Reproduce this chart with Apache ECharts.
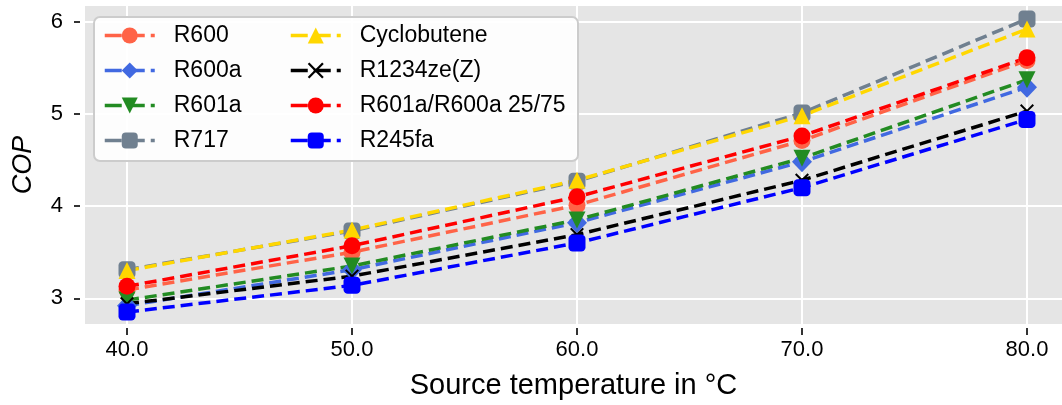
<!DOCTYPE html>
<html>
<head>
<meta charset="utf-8">
<script src="https://cdn.jsdelivr.net/npm/echarts@6/dist/echarts.min.js"></script>
<style>
	html, body { margin: 0; padding: 0; background: #fff; }
	#chart { width: 1062px; height: 405px; }
</style>
</head>
<body>
<div id="chart"></div>
<script>
// source temperature in °C
var temps = [40, 50, 60, 70, 80];
var xTicks = [40, 50, 60, 70, 80];
var yTicks = [3, 4, 5, 6];

// COP per refrigerant
var r600 = [3.09, 3.50, 4.01, 4.71, 5.58];
var r600a = [2.92, 3.31, 3.82, 4.48, 5.29];
var r601a = [2.98, 3.35, 3.85, 4.52, 5.37];
var r717 = [3.31, 3.73, 4.27, 5.01, 6.03];
var cyclobutene = [3.30, 3.74, 4.28, 4.98, 5.92];
var r1234zeZ = [2.94, 3.24, 3.69, 4.28, 5.03];
var r601aR600a = [3.13, 3.57, 4.10, 4.76, 5.61];
var r245fa = [2.85, 3.14, 3.60, 4.20, 4.94];

var crossPath = 'path://M0,1 L1,0 L5,4 L9,0 L10,1 L6,5 L10,9 L9,10 L5,6 L1,10 L0,9 L4,5 Z';
var font = 'Liberation Sans';

function pairs(vals) {
	return temps.map(function(t, i) { return [t, vals[i]]; });
}

function line(name, vals, color, symbol, size, rotate) {
	return {
		name: name,
		type: 'line',
		data: pairs(vals),
		symbol: symbol,
		symbolSize: size,
		symbolRotate: rotate || 0,
		showSymbol: true,
		animation: false,
		itemStyle: { color: color, opacity: 1 },
		lineStyle: { color: color, width: 3.5, type: [12, 6] }
	};
}

var series = [
	line('R600', r600, '#ff6347', 'circle', 17),
	line('R600a', r600a, '#4169e1', 'diamond', [20, 21]),
	line('R601a', r601a, '#228b22', 'triangle', 17, 180),
	line('R717', r717, '#708090', 'roundRect', 17),
	line('Cyclobutene', cyclobutene, '#ffd700', 'triangle', 17),
	line('R1234ze(Z)', r1234zeZ, '#000000', crossPath, 14),
	line('R601a/R600a 25/75', r601aR600a, '#ff0000', 'circle', 17),
	line('R245fa', r245fa, '#0000ff', 'roundRect', 17)
];

function legend(left, names) {
	return {
		data: names,
		orient: 'vertical',
		left: left,
		top: 24,
		padding: 0,
		itemGap: 12,
		itemWidth: 50,
		itemHeight: 20,
		z: 10,
		lineStyle: { width: 3.5, type: [17, 6] },
		textStyle: {
			fontFamily: font,
			fontSize: 23,
			lineHeight: 22,
			color: '#000',
			padding: [0, 0, 0, 14]
		}
	};
}

var chart = echarts.init(document.getElementById('chart'));
chart.setOption({
	backgroundColor: '#fff',
	animation: false,
	grid: {
		left: 85,
		right: 0,
		top: 6,
		bottom: 81,
		show: true,
		backgroundColor: '#e5e5e5',
		borderWidth: 0
	},
	graphic: [{
		type: 'rect',
		left: 93,
		top: 16,
		z: 9,
		shape: { width: 484, height: 144, r: 6 },
		style: { fill: 'rgba(255,255,255,0.92)', stroke: '#cccccc', lineWidth: 2 }
	}],
	legend: [
		legend(103, ['R600', 'R600a', 'R601a', 'R717']),
		legend(289, ['Cyclobutene', 'R1234ze(Z)', 'R601a/R600a 25/75', 'R245fa'])
	],
	xAxis: {
		type: 'value',
		min: 38.133,
		max: 81.556,
		splitNumber: 4,
		offset: 4,
		name: 'Source temperature in °C',
		nameLocation: 'middle',
		nameGap: 43,
		nameTextStyle: { fontFamily: font, fontSize: 29, color: '#000' },
		axisLine: { show: false },
		axisTick: { show: true, length: 7, customValues: xTicks, lineStyle: { color: '#333', width: 2 } },
		axisLabel: {
			customValues: xTicks,
			margin: 11,
			fontFamily: font,
			fontSize: 22,
			color: '#000',
			formatter: function(v) { return v.toFixed(1); }
		},
		splitLine: { show: true, lineStyle: { color: '#fff', width: 2 } }
	},
	yAxis: {
		type: 'value',
		min: 2.721,
		max: 6.17,
		splitNumber: 3,
		offset: 5,
		name: 'COP',
		nameLocation: 'middle',
		nameGap: 43,
		nameTextStyle: { fontFamily: font, fontSize: 27, fontStyle: 'italic', color: '#000' },
		axisLine: { show: false },
		axisTick: { show: true, length: 6, customValues: yTicks, lineStyle: { color: '#333', width: 2 } },
		axisLabel: {
			customValues: yTicks,
			margin: 17,
			fontFamily: font,
			fontSize: 22,
			color: '#000'
		},
		splitLine: { show: true, lineStyle: { color: '#fff', width: 2 } }
	},
	series: series
});
</script>
</body>
</html>
